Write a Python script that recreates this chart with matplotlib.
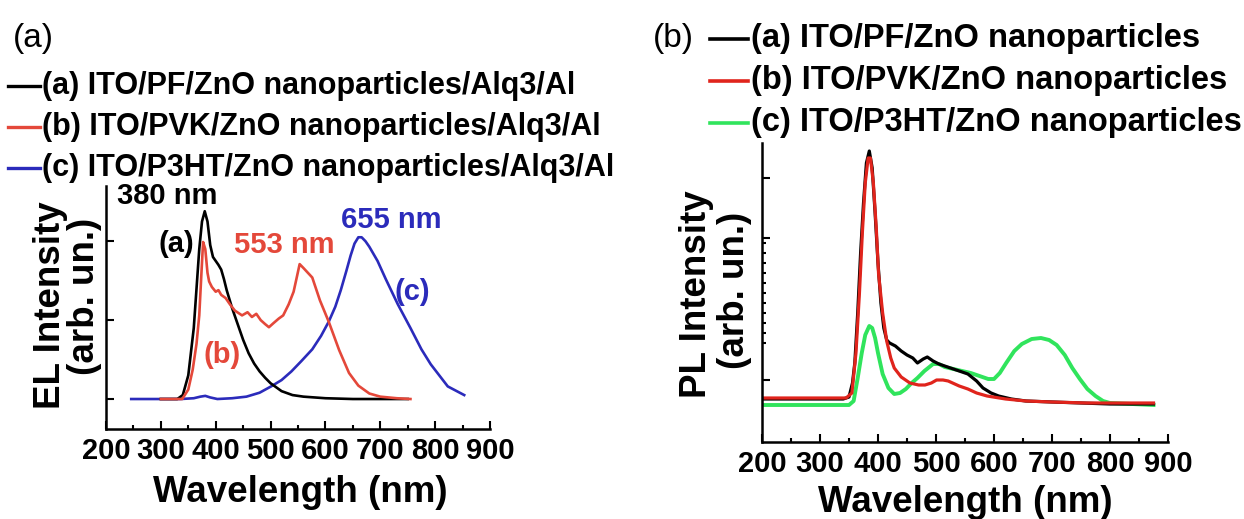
import matplotlib.pyplot as plt
from matplotlib.lines import Line2D
from matplotlib.ticker import MultipleLocator

plt.rcParams["font.family"] = ["Liberation Sans", "DejaVu Sans"]

# ---- (a) EL spectra ----
el_pf_nm = [300, 330, 340, 350, 360, 365, 370, 375, 380, 385, 390, 395, 400,
            405, 410, 415, 420, 430, 440, 450, 460, 470, 480, 490, 500, 520,
            540, 560, 600, 650, 700, 750]
el_pf = [0.0, 0.0, 0.05, 0.3, 0.9, 1.4, 1.9, 2.25, 2.38, 2.25, 1.95, 1.8, 1.75,
         1.7, 1.64, 1.52, 1.38, 1.15, 0.95, 0.75, 0.58, 0.45, 0.35, 0.27, 0.2,
         0.1, 0.05, 0.03, 0.01, 0.0, 0.0, 0.0]

el_pvk_nm = [300, 339, 350, 358, 365, 370, 374, 377, 381, 385, 388, 393, 400,
             405, 410, 418, 426, 435, 448, 458, 466, 474, 482, 490, 497, 505,
             515, 523, 533, 542, 548, 553, 560, 568, 576, 590, 606, 625, 643,
             660, 680, 700, 730, 755]
el_pvk = [0.0, 0.0, 0.12, 0.37, 0.7, 1.06, 1.6, 1.99, 1.9, 1.6, 1.49, 1.42,
          1.36, 1.38, 1.32, 1.28, 1.2, 1.12, 1.06, 1.1, 1.04, 1.08, 1.0, 0.95,
          0.91, 0.96, 1.02, 1.06, 1.2, 1.36, 1.55, 1.71, 1.66, 1.6, 1.54, 1.25,
          0.98, 0.62, 0.33, 0.17, 0.07, 0.03, 0.01, 0.0]

el_p3ht_nm = [246, 300, 336, 360, 372, 381, 390, 403, 430, 456, 480, 501, 520,
              538, 556, 576, 592, 606, 618, 628, 638, 646, 653, 660, 666, 673,
              680, 695, 710, 732, 755, 775, 792, 823, 853]
el_p3ht = [0.0, 0.0, 0.0, 0.01, 0.03, 0.04, 0.02, 0.0, 0.01, 0.03, 0.08, 0.16,
           0.24, 0.35, 0.48, 0.63, 0.8, 0.98, 1.17, 1.38, 1.62, 1.82, 1.97,
           2.05, 2.05, 2.0, 1.93, 1.75, 1.52, 1.2, 0.9, 0.63, 0.44, 0.16, 0.05]

# ---- (b) PL spectra ----
pl_pf_nm = [200, 340, 350, 356, 360, 365, 370, 375, 380, 385, 390, 395, 400,
            405, 410, 415, 420, 430, 440, 450, 460, 468, 478, 485, 495, 505,
            520, 540, 555, 570, 581, 595, 608, 630, 655, 700, 750, 800, 875]
pl_pf = [0.44, 0.44, 0.46, 0.6, 0.8, 1.3, 1.9, 2.4, 2.8, 2.92, 2.75, 2.3, 1.8,
         1.4, 1.15, 1.03, 1.0, 0.97, 0.92, 0.88, 0.85, 0.8, 0.84, 0.86, 0.82,
         0.79, 0.76, 0.72, 0.69, 0.62, 0.55, 0.5, 0.47, 0.44, 0.42, 0.41, 0.4,
         0.39, 0.39]

pl_pvk_nm = [200, 345, 355, 362, 368, 373, 378, 383, 387, 392, 397, 401, 408,
             415, 422, 428, 440, 455, 470, 481, 492, 501, 512, 521, 540, 555,
             570, 588, 620, 655, 700, 760, 800, 875]
pl_pvk = [0.45, 0.45, 0.5, 0.9, 1.5, 2.1, 2.6, 2.85, 2.85, 2.6, 2.15, 1.69,
          1.3, 1.02, 0.85, 0.75, 0.66, 0.6, 0.58, 0.58, 0.6, 0.63, 0.63, 0.62,
          0.57, 0.54, 0.5, 0.47, 0.44, 0.42, 0.41, 0.4, 0.4, 0.4]

pl_p3ht_nm = [200, 350, 358, 365, 372, 378, 385, 390, 395, 400, 408, 418, 428,
              438, 448, 458, 468, 480, 495, 505, 515, 530, 545, 560, 575, 590,
              600, 610, 621, 635, 648, 665, 681, 695, 708, 722, 735, 748, 761,
              775, 788, 800, 875]
pl_p3ht = [0.38, 0.38, 0.42, 0.65, 0.9, 1.08, 1.17, 1.15, 1.05, 0.9, 0.69,
           0.55, 0.49, 0.5, 0.54, 0.6, 0.65, 0.72, 0.79, 0.79, 0.76, 0.74, 0.72,
           0.7, 0.67, 0.64, 0.64, 0.7, 0.8, 0.92, 0.99, 1.04, 1.05, 1.03, 0.98,
           0.88, 0.75, 0.64, 0.54, 0.47, 0.42, 0.4, 0.38]

el_labels = ["(a) ITO/PF/ZnO nanoparticles/Alq3/Al",
             "(b) ITO/PVK/ZnO nanoparticles/Alq3/Al",
             "(c) ITO/P3HT/ZnO nanoparticles/Alq3/Al"]
pl_labels = ["(a) ITO/PF/ZnO nanoparticles",
             "(b) ITO/PVK/ZnO nanoparticles",
             "(c) ITO/P3HT/ZnO nanoparticles"]

el_colors = ["#000000", "#e4483a", "#2b2bbb"]
pl_colors = ["#000000", "#e0241c", "#30e45c"]

W, H = 1244, 519
fig = plt.figure(figsize=(W / 100, H / 100), dpi=100)


def fx(px):
    return px / W


def fy(py):
    return 1 - py / H


def style_axes(ax):
    for side in ("top", "right"):
        ax.spines[side].set_visible(False)
    for side in ("left", "bottom"):
        ax.spines[side].set_linewidth(1.8)
    ax.set_xlim(200, 900)
    ax.set_xticks(range(200, 901, 100))
    ax.xaxis.set_minor_locator(MultipleLocator(50))
    ax.tick_params(axis="both", which="both", direction="in", width=1.5)
    ax.tick_params(axis="x", which="major", length=6, pad=6, labelsize=21)
    ax.tick_params(axis="x", which="minor", length=3)
    ax.tick_params(axis="y", which="major", length=6, labelleft=False)
    ax.tick_params(axis="y", which="minor", length=3)
    for lab in ax.get_xticklabels():
        lab.set_fontweight("bold")


# left panel
ax1 = fig.add_axes([fx(106), fy(429), fx(490 - 106), (429 - 186) / H])
style_axes(ax1)
ax1.set_ylim(-0.38, 2.70)
ax1.set_yticks([0, 1, 2])
ax1.plot(el_p3ht_nm, el_p3ht, color=el_colors[2], lw=1.9)
ax1.plot(el_pf_nm, el_pf, color=el_colors[0], lw=1.9)
ax1.plot(el_pvk_nm, el_pvk, color=el_colors[1], lw=1.9)

ann = dict(fontsize=21, fontweight="bold", va="center", ha="left")
ax1.text(220, 2.57, "380 nm", color="black", **ann)
ax1.text(295, 1.97, "(a)", color="black", **ann)
ax1.text(434, 1.95, "553 nm", color=el_colors[1], **ann)
ax1.text(628, 2.27, "655 nm", color=el_colors[2], **ann)
ax1.text(725, 1.36, "(c)", color=el_colors[2], **ann)
ax1.text(377, 0.56, "(b)", color=el_colors[1], **ann)

# right panel
ax2 = fig.add_axes([fx(762), fy(442), fx(1168 - 762), (442 - 143) / H])
style_axes(ax2)
ax2.set_ylim(0.01, 3.0)
ax2.set_yticks([0.63, 2.05, 2.65])
ax2.set_yticks([v / 10 for v in range(10, 21)], minor=True)
ax2.plot(pl_p3ht_nm, pl_p3ht, color=pl_colors[2], lw=2.8)
ax2.plot(pl_pf_nm, pl_pf, color=pl_colors[0], lw=2.3)
ax2.plot(pl_pvk_nm, pl_pvk, color=pl_colors[1], lw=2.3)

# axis labels
lab = dict(fontsize=26.5, fontweight="bold", ha="center", va="center")
fig.text(fx(300), fy(492), "Wavelength (nm)", **lab)
fig.text(fx(965), fy(502), "Wavelength (nm)", **lab)
fig.text(fx(50), fy(305), "EL Intensity", rotation=90, **lab)
fig.text(fx(85), fy(296), "(arb. un.)", rotation=90, **lab)
fig.text(fx(696), fy(294), "PL Intensity", rotation=90, **lab)
fig.text(fx(735), fy(290), "(arb. un.)", rotation=90, **lab)

# panel tags
fig.text(fx(13), fy(39), "(a)", fontsize=24, va="center", ha="left")
fig.text(fx(653), fy(39), "(b)", fontsize=24, va="center", ha="left")

# hand-made legends
for i, (text, rowy) in enumerate(zip(el_labels, [86, 127, 168])):
    fig.add_artist(Line2D([fx(8), fx(40)], [fy(rowy), fy(rowy)],
                          color=el_colors[i], lw=2.4))
    fig.text(fx(42), fy(rowy), text, fontsize=22, fontweight="bold",
             va="center", ha="left")

for i, (text, rowy) in enumerate(zip(pl_labels, [39, 81, 123])):
    fig.add_artist(Line2D([fx(710), fx(748)], [fy(rowy), fy(rowy)],
                          color=pl_colors[i], lw=2.6))
    fig.text(fx(751), fy(rowy), text, fontsize=23.5, fontweight="bold",
             va="center", ha="left")

fig.savefig("out.png", dpi=100)
